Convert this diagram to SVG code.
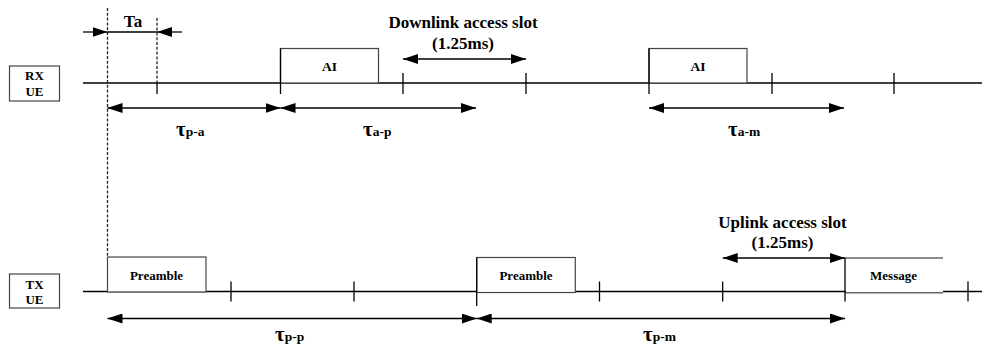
<svg xmlns="http://www.w3.org/2000/svg" width="982" height="349" viewBox="0 0 982 349">
<defs>
<style>
text{font-family:"Liberation Serif","Times New Roman",serif;font-weight:bold;fill:#000}
.lbl{font-size:13px;text-anchor:middle}
.big{font-size:17px;text-anchor:middle}
.tau{font-size:21px}
.sub{font-size:13.5px}
.line{stroke:#000;stroke-width:1.3;fill:none}
.tick{stroke:#000;stroke-width:1.3}
.box{stroke:#444;stroke-width:1.2;fill:#fff}
.dash{stroke:#222;stroke-width:1.3;stroke-dasharray:3,1.8;fill:none}
.arr{stroke:#000;stroke-width:1.3;fill:none;marker-end:url(#ah)}
.darr{stroke:#000;stroke-width:1.3;fill:none;marker-start:url(#ah);marker-end:url(#ah)}
</style>
<marker id="ah" markerUnits="userSpaceOnUse" markerWidth="15" markerHeight="10" refX="15" refY="5" orient="auto-start-reverse" viewBox="0 0 15 10">
<path d="M0,0 L15,5 L0,10 z" fill="#000"/>
</marker>
</defs>

<!-- timelines -->
<g id="timelines">
<line class="line" x1="83" y1="83" x2="982" y2="83"/>
<line class="line" x1="83" y1="291.5" x2="982" y2="291.5"/>
</g>

<g id="rx-ue">
<rect class="box" x="9.5" y="66" width="50" height="35"/>
<text class="lbl" x="34.5" y="80">RX</text>
<text class="lbl" x="34.5" y="95.5">UE</text>
</g>

<g id="tx-ue">
<rect class="box" x="9.5" y="274" width="50" height="34"/>
<text class="lbl" x="34.5" y="288.5">TX</text>
<text class="lbl" x="34.5" y="304">UE</text>
</g>

<g id="ai-1">
<rect class="box" x="280.5" y="48.5" width="98" height="34.5"/>
<text class="lbl" x="329.5" y="71" style="font-size:13.5px">AI</text>
</g>

<g id="ai-2">
<rect class="box" x="649" y="48.5" width="98" height="34.5"/>
<text class="lbl" x="698" y="71" style="font-size:13.5px">AI</text>
</g>

<g id="preamble-1">
<rect class="box" x="107.5" y="257" width="98.5" height="35"/>
<text class="lbl" x="156.5" y="279.5">Preamble</text>
</g>

<g id="preamble-2">
<rect class="box" x="476.7" y="257.5" width="98.6" height="35"/>
<text class="lbl" x="526" y="280">Preamble</text>
</g>

<g id="message">
<line x1="845" y1="258" x2="943" y2="258" stroke="#666" stroke-width="1.5"/>
<line x1="845" y1="292.7" x2="943" y2="292.7" stroke="#666" stroke-width="1.8"/>
<rect x="846" y="259" width="97" height="33" fill="#fff"/>
<text class="lbl" x="893.5" y="280">Message</text>
</g>

<g id="ticks">
<line class="tick" x1="157" y1="83" x2="157" y2="94"/>
<line class="tick" x1="280.5" y1="48.5" x2="280.5" y2="94"/>
<line class="tick" x1="403" y1="73" x2="403" y2="94"/>
<line class="tick" x1="526" y1="73" x2="526" y2="94"/>
<line class="tick" x1="649" y1="48.5" x2="649" y2="94"/>
<line class="tick" x1="772" y1="73" x2="772" y2="94"/>
<line class="tick" x1="894" y1="73" x2="894" y2="94"/>
<line class="tick" x1="231" y1="281.5" x2="231" y2="301.5"/>
<line class="tick" x1="354" y1="281.5" x2="354" y2="301.5"/>
<line class="tick" x1="476.7" y1="257.5" x2="476.7" y2="306"/>
<line class="tick" x1="599.5" y1="281.5" x2="599.5" y2="301.5"/>
<line class="tick" x1="722.7" y1="281.5" x2="722.7" y2="301.5"/>
<line class="tick" x1="845" y1="258" x2="845" y2="301.5"/>
<line class="tick" x1="968" y1="281.5" x2="968" y2="301.5"/>
</g>

<g id="connectors">
<line class="dash" x1="107.5" y1="8" x2="107.5" y2="257"/>
<line class="dash" x1="157" y1="18" x2="157" y2="83"/>
<line class="arr" x1="83" y1="32" x2="107.5" y2="32"/>
<line class="line" x1="107.5" y1="32" x2="157" y2="32"/>
<line class="arr" x1="182" y1="32" x2="157" y2="32"/>
<line class="darr" x1="403" y1="59" x2="526" y2="59"/>
<line class="darr" x1="107.5" y1="108" x2="280.5" y2="108"/>
<line class="darr" x1="280.5" y1="108" x2="476" y2="108"/>
<line class="darr" x1="649" y1="108" x2="844" y2="108"/>
<line class="darr" x1="722.7" y1="258" x2="845" y2="258"/>
<line class="darr" x1="107.5" y1="318.5" x2="476.7" y2="318.5"/>
<line class="darr" x1="476.7" y1="318.5" x2="845" y2="318.5"/>
</g>

<g id="labels">
<text class="big" x="133" y="27">Ta</text>
<text class="big" x="463" y="28">Downlink access slot</text>
<text class="big" x="463" y="49">(1.25ms)</text>
<text class="big" x="782.5" y="228">Uplink access slot</text>
<text class="big" x="782.5" y="248">(1.25ms)</text>
<text x="176" y="136"><tspan class="tau">τ</tspan><tspan class="sub">p-a</tspan></text>
<text x="363" y="136"><tspan class="tau">τ</tspan><tspan class="sub">a-p</tspan></text>
<text x="728" y="136"><tspan class="tau">τ</tspan><tspan class="sub">a-m</tspan></text>
<text x="275" y="341"><tspan class="tau">τ</tspan><tspan class="sub">p-p</tspan></text>
<text x="643" y="341"><tspan class="tau">τ</tspan><tspan class="sub">p-m</tspan></text>
</g>
</svg>
